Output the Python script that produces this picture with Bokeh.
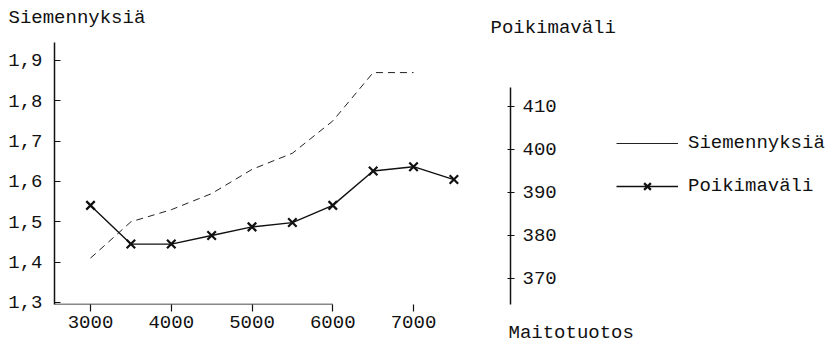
from bokeh.plotting import figure
from bokeh.models import (Range1d, LinearAxis, FixedTicker, Legend, LegendItem,
                          Label, Arrow, GridBox, Row)
from bokeh.embed import file_html
from bokeh.resources import INLINE

# Milk yield (Maitotuotos) classes
milk = [3000, 3500, 4000, 4500, 5000, 5500, 6000, 6500, 7000, 7500]
# Inseminations per pregnancy (left axis)
siem_milk = [3000, 3500, 4000, 4500, 5000, 5500, 6000, 6500, 7000]
siem = [1.41, 1.50, 1.53, 1.57, 1.63, 1.67, 1.75, 1.87, 1.87]
# Calving interval, days (right axis)
poik = [387, 378, 378, 380, 382, 383, 387, 395, 396, 393]

x_ticks = [3000, 4000, 5000, 6000, 7000]
x_tick_labels = ["3000", "4000", "5000", "6000", "7000"]
left_ticks = [1.3, 1.4, 1.5, 1.6, 1.7, 1.8, 1.9]
left_tick_labels = ["1,3", "1,4", "1,5", "1,6", "1,7", "1,8", "1,9"]
right_ticks = [370, 380, 390, 400, 410]
right_tick_labels = ["370", "380", "390", "400", "410"]

FONT = "Liberation Mono"
FS = "19px"
INK = "#111111"
W, H = 836, 344

x_lo, x_hi = 2554, 8201
y_lo, y_hi = 1.295, 1.9446

# ---------------------------------------------------------------- chart
p = figure(width=W, height=H, output_backend="svg", toolbar_location=None,
           x_range=Range1d(x_lo, x_hi), y_range=Range1d(y_lo, y_hi),
           min_border_left=54, min_border_right=326,
           min_border_top=42, min_border_bottom=40,
           x_axis_type=None, y_axis_type=None)
p.title.visible = False
p.outline_line_color = None
p.background_fill_color = "white"
p.border_fill_color = "white"
p.extra_y_ranges = {"poik": Range1d(363.95, 424.88)}

# x axis: ticks and labels; its line is drawn separately and stops at 6000
xax = LinearAxis(ticker=FixedTicker(ticks=x_ticks),
                 major_label_overrides=dict(zip(x_ticks, x_tick_labels)))
xax.axis_line_color = None
xax.major_tick_in = 0
xax.major_tick_out = 7
xax.major_tick_line_color = INK
xax.major_tick_line_width = 1.2
xax.minor_tick_line_color = None
xax.major_label_standoff = 4
xax.major_label_text_font = FONT
xax.major_label_text_font_size = FS
xax.major_label_text_color = INK
p.add_layout(xax, "below")
p.add_layout(Arrow(end=None, x_start=x_lo, y_start=y_lo, x_end=6000, y_end=y_lo,
                   line_color=INK, line_width=1.5))

# left axis: Siemennyksiä
lax = LinearAxis(ticker=FixedTicker(ticks=left_ticks),
                 major_label_overrides=dict(zip(left_ticks, left_tick_labels)))
lax.axis_line_color = INK
lax.axis_line_width = 1.5
lax.major_tick_in = 6
lax.major_tick_out = 0
lax.major_tick_line_color = INK
lax.minor_tick_line_color = None
lax.major_label_standoff = 12
lax.major_label_text_font = FONT
lax.major_label_text_font_size = FS
lax.major_label_text_color = INK
p.add_layout(lax, "left")

# right axis: Poikimaväli
rax = LinearAxis(y_range_name="poik", ticker=FixedTicker(ticks=right_ticks),
                 major_label_overrides=dict(zip(right_ticks, right_tick_labels)),
                 bounds=(363.95, 414.4))
rax.axis_line_color = INK
rax.axis_line_width = 1.5
rax.major_tick_in = 3
rax.major_tick_out = 4
rax.major_tick_line_color = INK
rax.minor_tick_line_color = None
rax.major_label_standoff = 8
rax.major_label_text_font = FONT
rax.major_label_text_font_size = FS
rax.major_label_text_color = INK
p.add_layout(rax, "right")

# series
p.line(siem_milk, siem, line_color="#222222", line_width=1.0, line_dash="7 5")
p.line(milk, poik, y_range_name="poik", line_color=INK, line_width=1.4)
p.scatter(milk, poik, y_range_name="poik", marker="x", size=12,
          line_color=INK, line_width=2.2)

# ------------------------------------------- titles and legend layer
# A transparent sheet over the chart, measured in pixels from the top-left,
# so that titles and the key can sit outside the plotting area.
q = figure(width=W, height=H, output_backend="svg", toolbar_location=None,
           x_range=Range1d(0, W), y_range=Range1d(H, 0),
           min_border=0, min_border_left=0, min_border_right=0,
           min_border_top=0, min_border_bottom=0,
           x_axis_type=None, y_axis_type=None)
q.title.visible = False
q.outline_line_color = None
q.background_fill_alpha = 0
q.border_fill_alpha = 0

# Key entries carry the series themselves; on this pixel sheet their
# milk-yield x values lie far beyond the visible range, so only the key shows.
key_s = q.line(siem_milk, siem, line_color="#222222", line_width=1.0)
key_pl = q.line(milk, poik, line_color=INK, line_width=1.4)
key_pm = q.scatter(milk, poik, marker="x", size=12, line_color=INK,
                   line_width=2.2)

legend = Legend(items=[LegendItem(label="Siemennyksiä", renderers=[key_s]),
                       LegendItem(label="Poikimaväli", renderers=[key_pl, key_pm])],
                location=(616, 146), orientation="vertical",
                glyph_width=62, glyph_height=24, label_height=24, spacing=19,
                padding=0, margin=0, label_standoff=10,
                border_line_color=None, background_fill_alpha=0,
                label_text_font=FONT, label_text_font_size=FS,
                label_text_color=INK)
q.add_layout(legend, "center")

for txt, x, y in [("Siemennyksiä", 8, 17),
                  ("Poikimaväli", 490, 27),
                  ("Maitotuotos", 508, 332)]:
    q.add_layout(Label(x=x, y=y, text=txt, text_font=FONT, text_font_size=FS,
                       text_color=INK, text_baseline="middle",
                       text_align="left"))

layout = GridBox(children=[(p, 0, 0), (Row(children=[q]), 0, 0)])

open("out.html", "w").write(file_html(layout, INLINE))
